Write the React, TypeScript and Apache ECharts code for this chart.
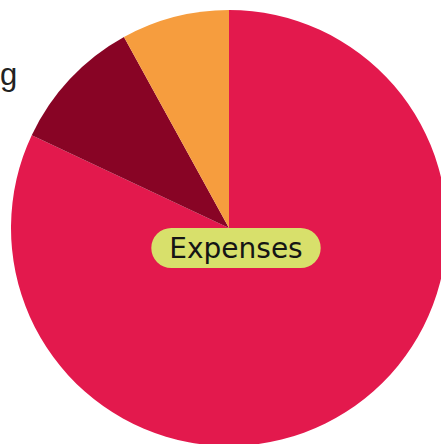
import React, { useEffect, useRef } from "react";
import * as echarts from "echarts";

const categories = ["Expenses", "Savings", "Investments"];
const values = [82, 10, 8];
const colors = ["#E3194D", "#880425", "#F69D3E"];
const centerLabel = "Expenses";
const cutTitle = "g";

export default function App() {
  const ref = useRef<HTMLDivElement>(null);
  useEffect(() => {
    document.body.style.margin = "0";
    const chart = echarts.init(ref.current!, null, { renderer: "svg" });
    chart.setOption({
      animation: false,
      series: [
        {
          type: "pie",
          center: [229, 228],
          radius: 218,
          startAngle: 90,
          clockwise: true,
          z: 1,
          label: { show: false },
          labelLine: { show: false },
          itemStyle: { borderWidth: 0 },
          emphasis: { disabled: true },
          data: categories.map((name, i) => ({
            name,
            value: values[i],
            itemStyle: { color: colors[i] },
          })),
        },
      ],
      graphic: [
        {
          type: "text",
          left: 0,
          top: 59,
          z: 100,
          style: {
            text: cutTitle,
            fill: "#222",
            font: "31px 'Liberation Sans', Arial, sans-serif",
          },
        },
        {
          type: "text",
          x: 236,
          y: 248,
          z: 100,
          style: {
            text: centerLabel,
            fill: "#151515",
            font: "28px 'DejaVu Sans', sans-serif",
            align: "center",
            verticalAlign: "middle",
            backgroundColor: "#D8E06B",
            padding: [6, 18, 6, 18],
            borderRadius: 20,
          },
        },
      ],
    });
    return () => chart.dispose();
  }, []);
  return <div ref={ref} style={{ width: 441, height: 444 }} />;
}
